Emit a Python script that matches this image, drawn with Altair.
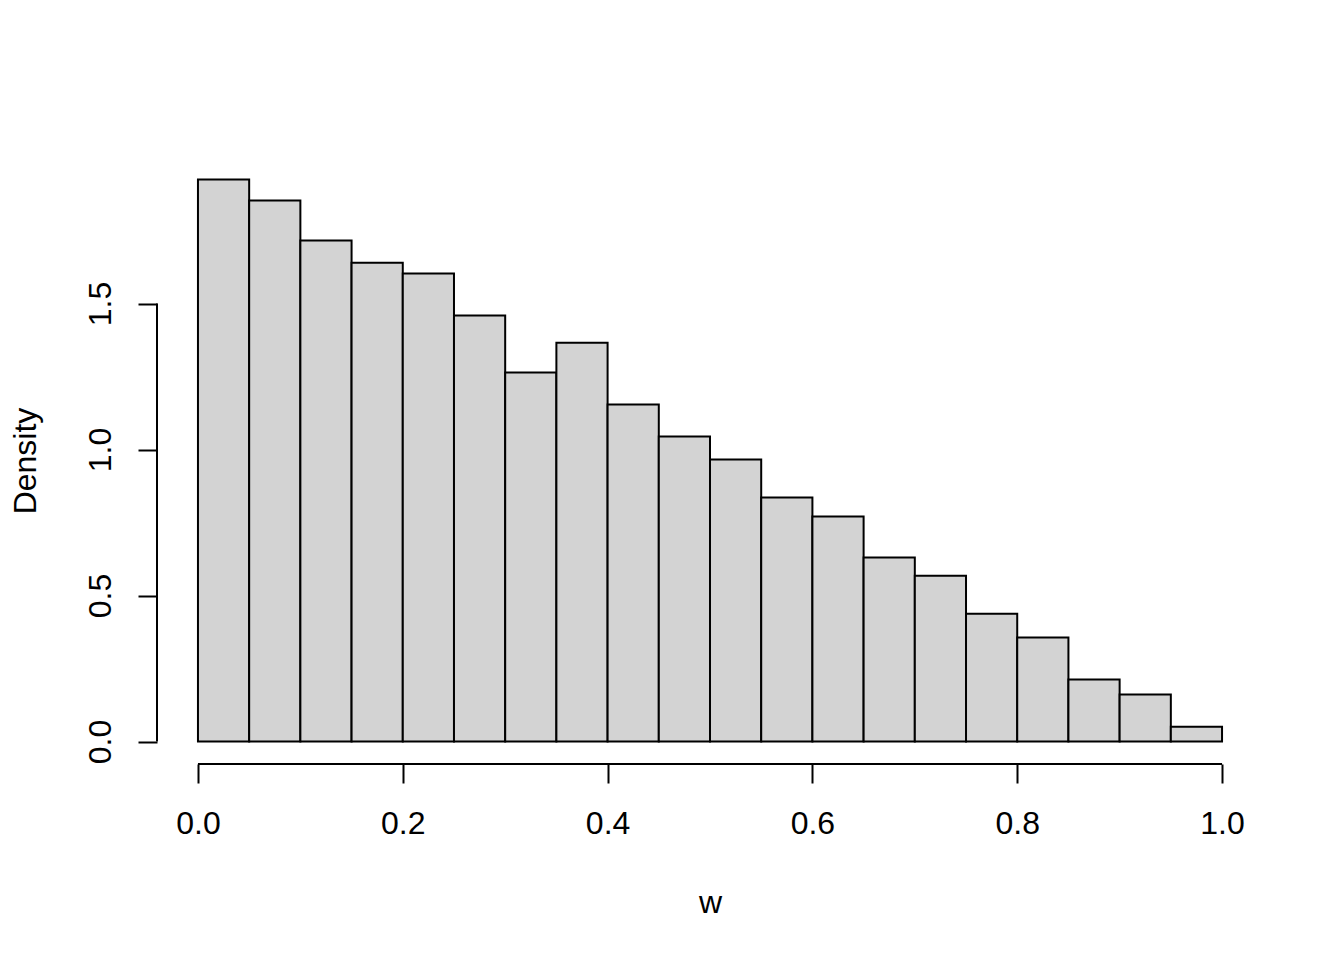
import altair as alt
import pandas as pd

bin_start = [0.00, 0.05, 0.10, 0.15, 0.20, 0.25, 0.30, 0.35, 0.40, 0.45,
             0.50, 0.55, 0.60, 0.65, 0.70, 0.75, 0.80, 0.85, 0.90, 0.95]
bin_end = [0.05, 0.10, 0.15, 0.20, 0.25, 0.30, 0.35, 0.40, 0.45, 0.50,
           0.55, 0.60, 0.65, 0.70, 0.75, 0.80, 0.85, 0.90, 0.95, 1.00]
density = [1.925, 1.853, 1.716, 1.640, 1.603, 1.459, 1.264, 1.366, 1.154, 1.045,
           0.966, 0.836, 0.771, 0.630, 0.568, 0.438, 0.356, 0.212, 0.161, 0.051]
x_ticks = [0.0, 0.2, 0.4, 0.6, 0.8, 1.0]
y_ticks = [0.0, 0.5, 1.0, 1.5]

W, H = 1106, 607
FONT = "Liberation Sans"
FS = 32

ymax = max(density)
xs = alt.Scale(domain=[-0.04, 1.04], nice=False, zero=False)
ys = alt.Scale(domain=[-0.04 * ymax, 1.04 * ymax], nice=False, zero=False)

df = pd.DataFrame({"x0": bin_start, "x1": bin_end, "d": density})

common_axis = dict(domain=False, grid=False, tickSize=19, tickWidth=2, tickColor="black",
                   labelFont=FONT, labelFontSize=FS, labelColor="black", format=".1f",
                   titleFont=FONT, titleFontSize=FS, titleFontWeight="normal", titleColor="black",
                   labelFlush=False, labelOverlap=False)

bars = alt.Chart(df).mark_rect(fill="#D3D3D3", stroke="black", strokeWidth=2).encode(
    x=alt.X("x0:Q", scale=xs,
            axis=alt.Axis(values=x_ticks, title="w", labelPadding=40, labelBaseline="middle",
                          titleX=W / 2, titleY=138, titleBaseline="middle", titleAlign="center",
                          **common_axis)),
    x2="x1:Q",
    y=alt.Y("d:Q", scale=ys,
            axis=alt.Axis(values=y_ticks, title="Density", labelAngle=-90, labelAlign="center",
                          labelBaseline="middle", labelPadding=38,
                          titleX=-132, titleY=H / 2, titleAngle=-90, titleBaseline="middle",
                          titleAlign="center", **common_axis)),
    y2=alt.datum(0),
)

xline = alt.Chart(pd.DataFrame({"x0": [x_ticks[0]], "x1": [x_ticks[-1]]})).mark_rule(
    color="black", strokeWidth=2).encode(
    x="x0:Q", x2="x1:Q", y=alt.value(H))

yline = alt.Chart(pd.DataFrame({"d": [y_ticks[0]], "d2": [y_ticks[-1]]})).mark_rule(
    color="black", strokeWidth=2).encode(
    y="d:Q", y2="d2:Q", x=alt.value(0))

chart = alt.layer(bars, xline, yline).properties(
    width=W, height=H,
    autosize=alt.AutoSizeParams(type="none"),
    padding={"left": 149, "top": 149, "right": 73, "bottom": 188},
    background="white",
).configure_view(stroke=None)

chart.save("out.html", embed_options={"renderer": "svg", "actions": False})
